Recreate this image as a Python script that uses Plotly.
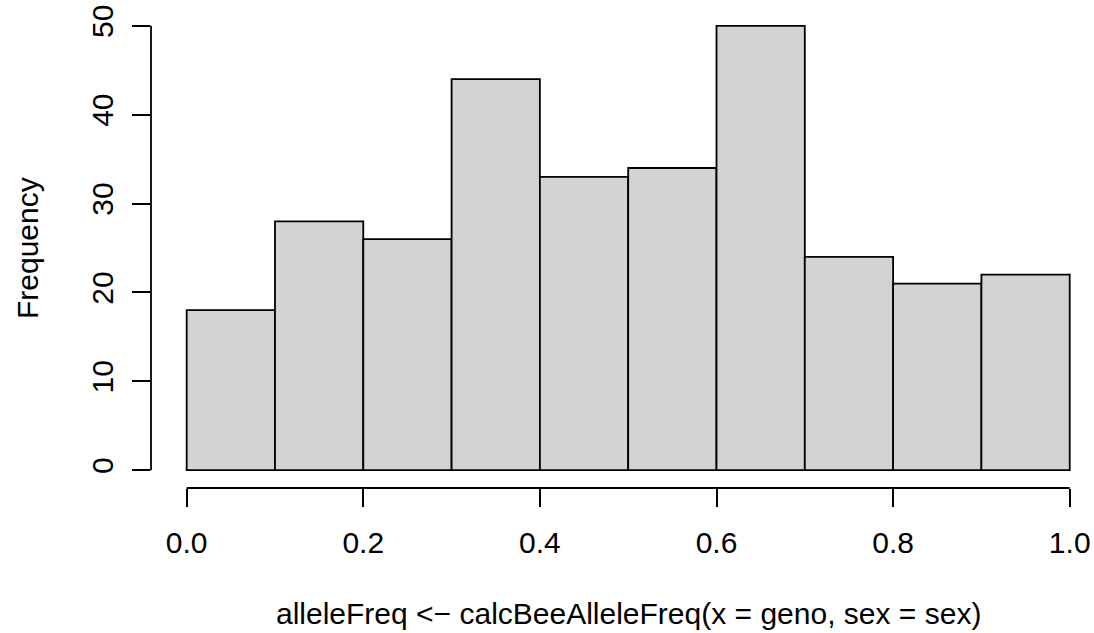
import plotly.graph_objects as go

# Histogram of allele frequencies: bin edges and counts per bin
breaks = [0.0, 0.1, 0.2, 0.3, 0.4, 0.5, 0.6, 0.7, 0.8, 0.9, 1.0]
counts = [18, 28, 26, 44, 33, 34, 50, 24, 21, 22]

x_ticks = [0.0, 0.2, 0.4, 0.6, 0.8, 1.0]
x_ticktext = ["0.0", "0.2", "0.4", "0.6", "0.8", "1.0"]
y_ticks = [0, 10, 20, 30, 40, 50]
y_ticktext = ["0", "10", "20", "30", "40", "50"]

x_title = "alleleFreq <\u2212 calcBeeAlleleFreq(x = geno, sex = sex)"
y_title = "Frequency"

centers = [(a + b) / 2 for a, b in zip(breaks[:-1], breaks[1:])]
widths = [b - a for a, b in zip(breaks[:-1], breaks[1:])]

FONT = "Liberation Sans, Arial, Helvetica, sans-serif"
FS = 30
LW = 1.8

fig = go.Figure(
    go.Bar(
        x=centers,
        y=counts,
        width=widths,
        marker=dict(color="#D3D3D3", line=dict(color="black", width=LW)),
        hoverinfo="x+y",
    )
)

fig.update_layout(
    width=1094,
    height=633,
    autosize=False,
    margin=dict(l=151, r=0, t=8, b=145, pad=0),
    paper_bgcolor="white",
    plot_bgcolor="white",
    showlegend=False,
    font=dict(family=FONT, size=FS, color="black"),
    xaxis=dict(
        range=[-0.0404, 1.0275],
        showgrid=False,
        zeroline=False,
        showline=False,
        tickmode="array",
        tickvals=x_ticks,
        ticktext=x_ticktext,
        ticks="outside",
        ticklen=18,
        tickwidth=LW,
        tickcolor="black",
        ticklabelstandoff=10,
        tickfont=dict(family=FONT, size=FS, color="black"),
    ),
    yaxis=dict(
        range=[-2, 52],
        showgrid=False,
        zeroline=False,
        showline=False,
        tickmode="array",
        tickvals=y_ticks,
        ticktext=y_ticktext,
        ticks="outside",
        ticklen=18,
        tickwidth=LW,
        tickcolor="black",
        tickangle=-90,
        ticklabelstandoff=7,
        tickfont=dict(family=FONT, size=FS, color="black"),
    ),
    shapes=[
        # detached x axis line spanning the bin range
        dict(type="line", xref="x", yref="paper", x0=breaks[0], x1=breaks[-1],
             y0=0, y1=0, line=dict(color="black", width=LW)),
        # detached y axis line spanning the tick range
        dict(type="line", xref="paper", yref="y", x0=0, x1=0,
             y0=y_ticks[0], y1=y_ticks[-1], line=dict(color="black", width=LW)),
    ],
    annotations=[
        dict(text=x_title, xref="x", yref="paper", x=0.5, y=0,
             xanchor="center", yanchor="middle", yshift=-125,
             showarrow=False, font=dict(family=FONT, size=FS, color="black")),
        dict(text=y_title, xref="paper", yref="y", x=0, y=25,
             xanchor="center", yanchor="middle", xshift=-124, textangle=-90,
             showarrow=False, font=dict(family=FONT, size=FS, color="black")),
    ],
)

fig.write_html("out.html")
